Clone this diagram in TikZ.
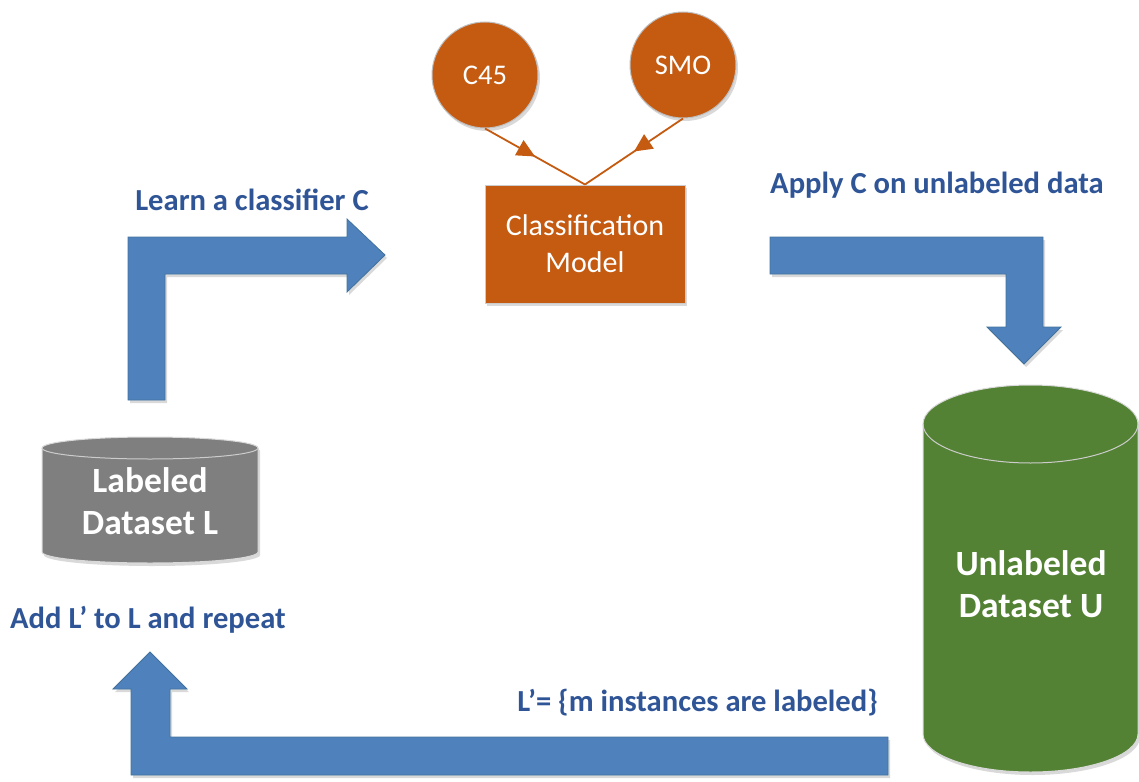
\documentclass[tikz,border=0pt]{standalone}
\usepackage{fontspec}
\setmainfont{Carlito}
\usetikzlibrary{decorations.markings,arrows.meta,shadows}
\definecolor{blockblue}{HTML}{4F81BD}
\definecolor{blockedge}{HTML}{41719C}
\definecolor{lblblue}{HTML}{2F5597}
\definecolor{orng}{HTML}{C55A11}
\definecolor{grn}{HTML}{548235}
\definecolor{gry}{HTML}{7F7F7F}
\begin{document}
\begin{tikzpicture}[x=1pt,y=-1pt,
  shad/.style={drop shadow={shadow xshift=2pt,shadow yshift=-3pt,opacity=0.25,fill=black!60}},
  blockarrow/.style={fill=blockblue, draw=blockedge, line width=0.8pt, line join=miter, shad},
  lbl/.style={text=lblblue, font=\fontsize{30.6}{36}\selectfont\bfseries, inner sep=0pt},
  cyltext/.style={text=white, font=\fontsize{35.5}{42}\selectfont\bfseries, align=center},
  circ/.style={circle, fill=orng, draw=black!25, line width=1pt, minimum size=106pt, inner sep=0pt, text=white, font=\fontsize{28.5}{34}\selectfont, shad},
  modelbox/.style={rectangle, fill=orng, draw=black!20, line width=1pt, minimum width=200pt, minimum height=118pt, text=white, align=center, font=\fontsize{30}{37}\selectfont, shad},
  orangeconn/.style={draw=orng, line width=1.8pt, postaction={decorate},
    decoration={markings, mark=at position 0.5 with {\arrow{Triangle[length=18pt,width=17pt]}}}},
]
\useasboundingbox (0,0) rectangle (1139,781);

% nodes
\node[circ] (c45) at (485,75) {C45};
\node[circ] (smo) at (683,65) {SMO};
\node[modelbox] (cm) at (585,244) {Classification\\Model};
\draw[orangeconn] (c45.south) -- (cm.north);
\draw[orangeconn] (smo.south) -- (cm.north);

% block arrows
\path[blockarrow] (128,400) -- (128,237) -- (347,237) -- (347,219) -- (385,255) -- (347,292) -- (347,274) -- (165,274) -- (165,400) -- cycle;
\path[blockarrow] (770,237) -- (1043,237) -- (1043,327) -- (1061,327) -- (1024,364) -- (987,327) -- (1006,327) -- (1006,274) -- (770,274) -- cycle;
\path[blockarrow] (888,737) -- (170,737) -- (170,689) -- (187,689) -- (150,652) -- (113,689) -- (131,689) -- (131,775) -- (888,775) -- cycle;

% gray cylinder
\path[fill=gry, draw=black!15, line width=1pt, shad] (42,448) -- (42,552) arc (180:0:108 and 11) -- (258,448) arc (0:-180:108 and 11) -- cycle;
\draw[black!20, line width=1pt] (42,448) arc (180:0:108 and 11);
\node[cyltext] (lab) at (150,501) {Labeled\\Dataset L};

% green cylinder
\path[fill=grn, draw=black!15, line width=1pt, shad] (923,424) -- (923,734) arc (180:0:107.5 and 38) -- (1138,424) arc (0:-180:107.5 and 39) -- cycle;
\draw[black!20, line width=1pt] (923,424) arc (180:0:107.5 and 39);
\node[cyltext] (unl) at (1031,584) {Unlabeled\\Dataset U};

% labels
\node[lbl] (learn) at (252,200) {Learn a classifier C};
\node[lbl, anchor=west] (apply) at (770,185) {Apply C on unlabeled data};
\node[lbl, anchor=west] (addl) at (10,620) {Add L’ to L and repeat};
\node[lbl, anchor=east] (lprime) at (878,703) {L’= \{m instances are labeled\}};
\end{tikzpicture}
\end{document}
